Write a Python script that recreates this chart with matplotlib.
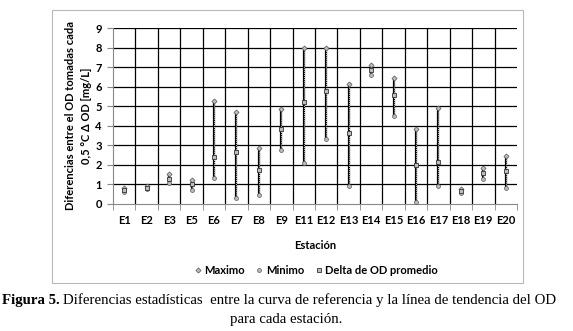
import numpy as np
import matplotlib.pyplot as plt
from matplotlib.patches import Rectangle
from matplotlib.lines import Line2D

# Estaciones y valores
estaciones = ['E1', 'E2', 'E3', 'E5', 'E6', 'E7', 'E8', 'E9', 'E11', 'E12',
              'E13', 'E14', 'E15', 'E16', 'E17', 'E18', 'E19', 'E20']
maximo = [0.8, 0.9, 1.55, 1.25, 5.25, 4.7, 2.85, 4.85, 8.0, 8.0,
          6.15, 7.1, 6.45, 3.85, 4.9, 0.75, 1.85, 2.45]
minimo = [0.6, 0.78, 1.05, 0.7, 1.35, 0.3, 0.45, 2.75, 2.1, 3.3,
          0.9, 6.6, 4.5, 0.1, 0.9, 0.55, 1.3, 0.8]
promedio = [0.7, 0.83, 1.3, 1.0, 2.4, 2.65, 1.75, 3.85, 5.2, 5.8,
            3.65, 6.85, 5.55, 2.0, 2.15, 0.65, 1.6, 1.7]

font = ['Lato', 'DejaVu Sans']
gris = '#bdbdbd'

fig = plt.figure(figsize=(5.73, 3.31), dpi=100)
fig.patches.append(Rectangle((0.0908, 0.145), 0.822, 0.8248, transform=fig.transFigure,
                             fill=False, edgecolor='#b8b8b8', linewidth=0.8))

ax = fig.add_axes([0.1972, 0.3837, 0.7051, 0.5317])
x = np.arange(len(estaciones))

# lineas max-min
ax.vlines(x, minimo, maximo, color='black', linewidth=1.6, zorder=3)
ax.vlines(x, minimo, maximo, color='#d0d0d0', linewidth=0.7,
          linestyles=[(0, (1, 1))], zorder=4)
ax.plot(x, maximo, linestyle='none', marker='D', markersize=2.6,
        markerfacecolor=gris, markeredgecolor='#555555', markeredgewidth=0.5, zorder=5)
ax.plot(x, minimo, linestyle='none', marker='o', markersize=2.8,
        markerfacecolor=gris, markeredgecolor='#555555', markeredgewidth=0.5, zorder=5)
ax.plot(x, promedio, linestyle='none', marker='s', markersize=3.4,
        markerfacecolor=gris, markeredgecolor='#333333', markeredgewidth=0.6, zorder=6)

ax.set_xlim(-0.5, len(estaciones) - 0.5)
ax.set_ylim(0, 9)
ax.set_yticks(range(10))
ax.set_xticks(x)
ax.set_xticks(np.arange(-0.5, len(estaciones)), minor=True)
ax.set_xticklabels(estaciones)
ax.tick_params(axis='x', which='major', length=0, pad=8)
ax.tick_params(axis='x', which='minor', length=4, direction='out', color='#888888')
ax.tick_params(axis='y', length=4, direction='out', color='#888888', pad=4)
for lab in ax.get_xticklabels() + ax.get_yticklabels():
    lab.set_family(font)
    lab.set_fontweight('bold')
    lab.set_fontsize(8)

for v in range(1, 10):
    ax.axhline(v, color='black', linewidth=0.9, zorder=1)
for b in np.arange(0.5, len(estaciones) - 1):
    ax.axvline(b, color='black', linewidth=0.9, zorder=1)
for s in ['top', 'right']:
    ax.spines[s].set_visible(False)
ax.spines['left'].set_color('#888888')
ax.spines['bottom'].set_color('#888888')

ax.set_xlabel('Estación', family=font, fontweight='bold', fontsize=8, labelpad=10)
ax.set_ylabel('Diferencias entre el OD tomadas cada\n0,5 °C Δ OD [mg/L]',
              family=font, fontweight='bold', fontsize=8, labelpad=2, linespacing=1.6)

handles = [
    Line2D([], [], linestyle='none', marker='D', markersize=2.6, markerfacecolor=gris,
           markeredgecolor='#555555', markeredgewidth=0.5),
    Line2D([], [], linestyle='none', marker='o', markersize=2.8, markerfacecolor=gris,
           markeredgecolor='#555555', markeredgewidth=0.5),
    Line2D([], [], linestyle='none', marker='s', markersize=3.4, markerfacecolor=gris,
           markeredgecolor='#333333', markeredgewidth=0.6),
]
fig.legend(handles, ['Maximo', 'Minimo', 'Delta de OD promedio'], loc='center',
           bbox_to_anchor=(0.552, 0.184), ncol=3, frameon=False, handlelength=0.6,
           handletextpad=0.3, columnspacing=1.0,
           prop={'family': font, 'weight': 'bold', 'size': 8})

# pie de figura
t1 = fig.text(0.004, 0.093, 'Figura 5.', family='Liberation Serif', fontweight='bold',
              fontsize=10.7, ha='left', va='center')
r = fig.canvas.get_renderer()
bb = t1.get_window_extent(renderer=r).transformed(fig.transFigure.inverted())
fig.text(bb.x1 + 0.006, 0.093,
         'Diferencias estadísticas  entre la curva de referencia y la línea de tendencia del OD',
         family='Liberation Serif', fontsize=10.7, ha='left', va='center')
fig.text(0.5, 0.035, 'para cada estación.', family='Liberation Serif',
         fontsize=10.7, ha='center', va='center')

fig.savefig('out.png', dpi=100)
